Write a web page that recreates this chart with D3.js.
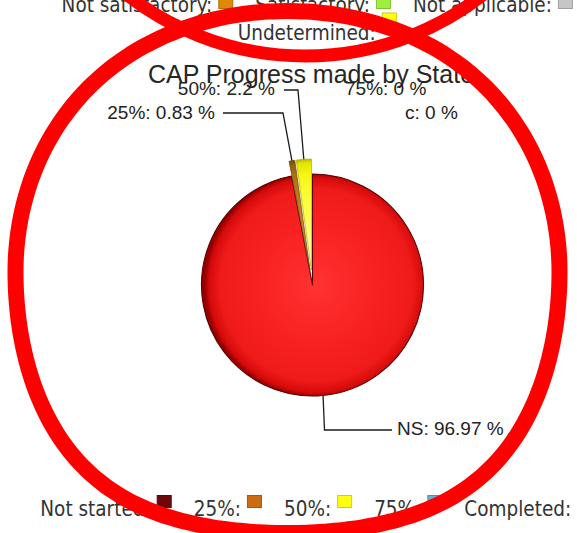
<!DOCTYPE html>
<html>
<head>
<meta charset="utf-8">
<script src="https://cdn.jsdelivr.net/npm/d3@7"></script>
<style>
  html, body { margin: 0; padding: 0; background: #ffffff; overflow: hidden; }
  svg { display: block; }
</style>
</head>
<body>
<svg id="chart" width="577" height="533"></svg>
<script>
// ---- data ----
const titleText = "CAP Progress made by State";

const sliceNames  = ["NS", "25%", "50%", "75%", "c"];
const sliceValues = [96.97, 0.83, 2.2, 0, 0];
const sliceFills  = [
  ["#ff3232", "#f82222", "#ef1a1a", "#d40a0a", "#960000"],
  ["#d89a30", "#c88420", "#b07018", "#906010", "#6a4a08"],
  ["#ffffd8", "#ffff50", "#f6f614", "#e4e400", "#b0b000"],
  ["#a0d8f0", "#70bce4", "#5aaedc", "#4090c0", "#2a6a90"],
  ["#a8e878", "#80d040", "#66bb33", "#4a9a20", "#2e6a10"]
];

const topLegendRow1       = ["Not satisfactory:", "Satisfactory:", "Not applicable:"];
const topLegendRow1Colors = ["#dd8a06", "#9ef03c", "#c6c6c6"];
const topLegendRow2       = ["Undetermined:"];
const topLegendRow2Colors = ["#ffff10"];

const bottomLegend       = ["Not started:", "25%:", "50%:", "75%:", "Completed:"];
const bottomLegendColors = ["#6e0808", "#cc6c10", "#ffff10", "#5fb2dc", "#66bb33"];

// ---- layout ----
const cx = 312.5, cy = 285, R = 111;
const explode = 15;

// label anchors, relative to the pie centre
const labelLayout = {
  "NS":  { dx:  84.5, dy:  150, anchor: "start", elbow: [ 12, 145], end: [ 79.5, 145] },
  "25%": { dx: -97.5, dy: -166, anchor: "end",   elbow: [-29.5, -172], end: [-89.5, -172] },
  "50%": { dx: -37.5, dy: -190, anchor: "end",   elbow: [-14.5, -195], end: [-28.5, -195] },
  "75%": { dx:  32.5, dy: -190, anchor: "start" },
  "c":   { dx:  92.5, dy: -166, anchor: "start" }
};

const svg = d3.select("#chart");
const defs = svg.append("defs");

const legendFont = "'DejaVu Sans Condensed', 'DejaVu Sans', Verdana, sans-serif";
const labelFont = "'Liberation Sans', Arial, sans-serif";

// ---- legends (centred flow rows: text, swatch) ----
function legendRow(names, colors, baseline, boxTop, centerX) {
  const g = svg.append("g");
  const items = names.map((n, i) => {
    const t = g.append("text")
      .attr("y", baseline)
      .attr("font-family", legendFont)
      .attr("font-size", 20.5)
      .attr("fill", "#333")
      .text(n);
    return { t, w: t.node().getComputedTextLength(), color: colors[i] };
  });
  const gapText = 6.5, box = 14, gapItem = 22.5;
  const total = d3.sum(items, d => d.w + gapText + box) + gapItem * (items.length - 1);
  let x = centerX - total / 2;
  items.forEach(d => {
    d.t.attr("x", x);
    x += d.w + gapText;
    g.append("rect")
      .attr("x", x).attr("y", baseline - boxTop)
      .attr("width", box).attr("height", 12)
      .attr("fill", d.color)
      .attr("stroke", d3.color(d.color).darker(0.6))
      .attr("stroke-width", 1);
    x += box + gapItem;
  });
}

legendRow(topLegendRow1, topLegendRow1Colors, 12, 15.5, 317);
legendRow(topLegendRow2, topLegendRow2Colors, 40, 27, 317);
legendRow(bottomLegend, bottomLegendColors, 516, 20.5, 316);

// ---- title ----
svg.append("text")
  .attr("x", 311).attr("y", 83)
  .attr("text-anchor", "middle")
  .attr("font-family", labelFont)
  .attr("font-size", 25)
  .attr("fill", "#262626")
  .text(titleText);

// ---- pie ----
const pie = d3.pie().sort(null).value(d => d.value);
const arcs = pie(sliceNames.map((n, i) => ({ name: n, value: sliceValues[i], idx: i })));
const arcGen = d3.arc().innerRadius(0).outerRadius(R);

sliceFills.forEach((stops, i) => {
  const grad = defs.append("radialGradient")
    .attr("id", "sliceGrad" + i)
    .attr("gradientUnits", "userSpaceOnUse")
    .attr("cx", 4).attr("cy", 0).attr("r", R + 1)
    .attr("fx", 4).attr("fy", 0);
  const offs = [0, 0.5, 0.86, 0.96, 1];
  stops.forEach((c, k) => grad.append("stop").attr("offset", offs[k]).attr("stop-color", c));
});

const pieG = svg.append("g").attr("transform", `translate(${cx},${cy})`);

function shiftOf(d) {
  if (d.index === 0) return [0, 0];
  const mid = (d.startAngle + d.endAngle) / 2;
  return [explode * Math.sin(mid), -explode * Math.cos(mid)];
}

arcs.filter(d => d.value > 0).forEach(d => {
  const [sx, sy] = shiftOf(d);
  pieG.append("g")
    .attr("transform", `translate(${sx},${sy})`)
    .append("path")
    .attr("d", arcGen(d))
    .attr("fill", `url(#sliceGrad${d.data.idx})`)
    .attr("stroke", d.index === 0 ? "#5a0000" : sliceFills[d.data.idx][4])
    .attr("stroke-width", d.index === 0 ? 1.1 : 0.7)
    .attr("stroke-linejoin", "round");
});

// ---- labels with leader lines ----
arcs.forEach(d => {
  const lay = labelLayout[d.data.name];
  if (lay.elbow && d.value > 0) {
    const [sx, sy] = shiftOf(d);
    const mid = (d.startAngle + d.endAngle) / 2;
    const p0 = [sx + R * Math.sin(mid), sy - R * Math.cos(mid)];
    pieG.append("polyline")
      .attr("points", [p0, lay.elbow, lay.end].map(p => p.join(",")).join(" "))
      .attr("fill", "none")
      .attr("stroke", "#1a1a1a")
      .attr("stroke-width", 1.3);
  }
  pieG.append("text")
    .attr("x", lay.dx).attr("y", lay.dy)
    .attr("text-anchor", lay.anchor)
    .attr("font-family", labelFont)
    .attr("font-size", 19)
    .attr("fill", "#222")
    .text(`${d.data.name}: ${d.data.value} %`);
});

// ---- red prohibition mark drawn over the chart ----
// a slightly egg-shaped ring: an ellipse whose lower half bulges outward a little
const ring = { cx: 287.5, cy: 272, rx: 272, ry: 261, bulgeUp: 17, bulgeDown: 60 };
const ringPath = d3.range(0, 360, 2).map(deg => {
  const t = deg * Math.PI / 180, s = Math.sin(t), c = Math.cos(t);
  const k = c > 0 ? ring.bulgeUp : ring.bulgeDown;
  return [ring.cx + ring.rx * s, ring.cy - ring.ry * c - k * s * s * c];
});
const mark = svg.append("g").attr("fill", "none").attr("stroke", "#ff0000");
mark.append("path")
  .attr("d", d3.line().curve(d3.curveCardinalClosed)(ringPath))
  .attr("stroke-width", 16);
mark.append("circle")
  .attr("cx", 305).attr("cy", -233)
  .attr("r", 289)
  .attr("stroke-width", 13);
</script>
</body>
</html>
